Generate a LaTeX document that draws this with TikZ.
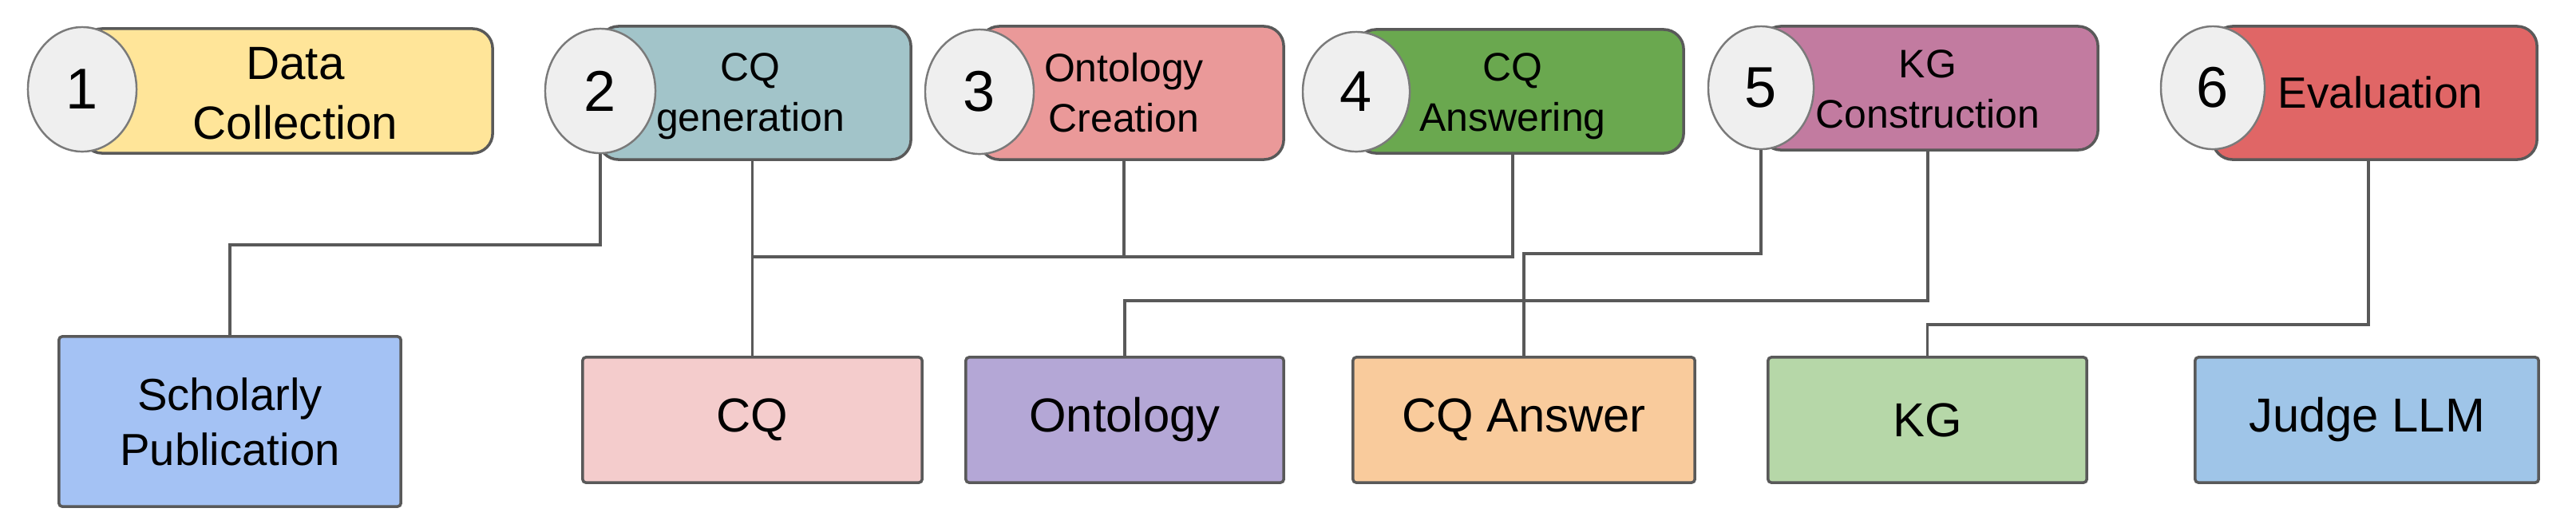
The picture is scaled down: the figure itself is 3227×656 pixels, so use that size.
\documentclass[tikz,border=0pt]{standalone}
\usepackage{fontspec}
\setmainfont{Liberation Sans}
\usetikzlibrary{shapes.geometric}
\definecolor{edge}{HTML}{595959}
\definecolor{ring}{HTML}{7A7A7A}
\definecolor{cgray}{HTML}{EFEFEF}
\definecolor{cyellow}{HTML}{FFE599}
\definecolor{cteal}{HTML}{A2C4C9}
\definecolor{cpinkred}{HTML}{EA9999}
\definecolor{cgreen}{HTML}{6AA84F}
\definecolor{cmagenta}{HTML}{C27BA0}
\definecolor{cred}{HTML}{E06666}
\definecolor{cblue}{HTML}{A4C2F4}
\definecolor{cpink}{HTML}{F4CCCC}
\definecolor{cpurple}{HTML}{B4A7D6}
\definecolor{corange}{HTML}{F9CB9C}
\definecolor{clgreen}{HTML}{B6D7A8}
\definecolor{clblue}{HTML}{9FC5E8}
\begin{document}
\begin{tikzpicture}[x=0.01cm,y=-0.01cm,
  stagebox/.style={draw=edge, line width=1pt, rounded corners=0.25cm, rectangle, inner sep=0pt},
  numcirc/.style={ellipse, draw=ring, line width=0.7pt, fill=cgray, inner sep=0pt,
    font=\fontsize{20.5}{24}\selectfont},
  stagetext/.style={align=center, inner sep=0pt, font=\fontsize{14.2}{17.9}\selectfont},
  itembox/.style={draw=edge, line width=1pt, rounded corners=0.04cm, rectangle, inner sep=0pt,
    align=center, font=\fontsize{17}{20}\selectfont},
  conn/.style={draw=edge, line width=0.9pt}
]
\useasboundingbox (0,0) rectangle (3227,656);

% stage boxes
\node[stagebox, fill=cyellow,   minimum width=5.14cm, minimum height=1.56cm] (b1) at (360,114) {};
\node[stagebox, fill=cteal,     minimum width=3.91cm, minimum height=1.67cm] (b2) at (945.5,116.5) {};
\node[stagebox, fill=cpinkred,  minimum width=3.81cm, minimum height=1.67cm] (b3) at (1417.5,116.5) {};
\node[stagebox, fill=cgreen,    minimum width=4.10cm, minimum height=1.55cm] (b4) at (1904,114.5) {};
\node[stagebox, fill=cmagenta,  minimum width=4.22cm, minimum height=1.55cm] (b5) at (2417,110.5) {};
\node[stagebox, fill=cred,      minimum width=4.06cm, minimum height=1.67cm] (b6) at (2975,116.5) {};

% number circles
\node[numcirc, minimum width=1.36cm, minimum height=1.56cm] (c1) at (103,112) {1};
\node[numcirc, minimum width=1.38cm, minimum height=1.56cm] (c2) at (752,114) {2};
\node[numcirc, minimum width=1.36cm, minimum height=1.56cm] (c3) at (1227,115) {3};
\node[numcirc, minimum width=1.34cm, minimum height=1.50cm] (c4) at (1699,115) {4};
\node[numcirc, minimum width=1.32cm, minimum height=1.54cm] (c5) at (2206,110) {5};
\node[numcirc, minimum width=1.30cm, minimum height=1.54cm] (c6) at (2772,110) {6};

% stage labels
\node[stagetext, font=\fontsize{16.6}{21.3}\selectfont] (t1) at (370,117) {Data\\Collection};
\node[stagetext] (t2) at (940,121) {CQ\\generation};
\node[stagetext] (t3) at (1408,116) {Ontology\\Creation};
\node[stagetext] (t4) at (1895,121) {CQ\\Answering};
\node[stagetext] (t5) at (2415,112) {KG\\Construction};
\node[stagetext, font=\fontsize{15.6}{18}\selectfont] (t6) at (2982,116) {Evaluation};

% artefact boxes
\node[itembox, fill=cblue,    minimum width=4.28cm, minimum height=2.13cm,
      font=\fontsize{16}{19.6}\selectfont] (sp) at (288,528.5) {Scholarly\\Publication};
\node[itembox, fill=cpink,    minimum width=4.25cm, minimum height=1.57cm] (cq) at (942.5,526.5) {CQ};
\node[itembox, fill=cpurple,  minimum width=3.98cm, minimum height=1.57cm] (on) at (1409,526.5) {Ontology};
\node[itembox, fill=corange,  minimum width=4.28cm, minimum height=1.57cm] (ca) at (1909,526.5) {CQ Answer};
\node[itembox, fill=clgreen,  minimum width=3.99cm, minimum height=1.57cm] (kg) at (2414.5,526.5) {KG};
\node[itembox, fill=clblue,   minimum width=4.30cm, minimum height=1.57cm] (jl) at (2965,526.5) {Judge LLM};

% connector levels
\coordinate (h1) at (0,307);
\coordinate (h2) at (0,322);
\coordinate (h3) at (0,318);
\coordinate (h4) at (0,377);
\coordinate (h5) at (0,407);
\coordinate (e6) at ([xshift=-0.08cm]b6.south);

\draw[conn] (c2.south) -- (c2.south |- h1) -| (sp.north);
\draw[conn] (cq.north |- b2.south) -- (cq.north);
\draw[conn] (t3 |- b3.south) -- (t3 |- h2);
\draw[conn] (t4 |- b4.south) -- (t4 |- h2) -- (cq.north |- h2);
\draw[conn] (c5.south) -- (c5.south |- h3) -| (ca.north);
\draw[conn] (t5 |- b5.south) -- (t5 |- h4) -| (on.north);
\draw[conn] (e6) -- (e6 |- h5) -| (kg.north);
\end{tikzpicture}
\end{document}
